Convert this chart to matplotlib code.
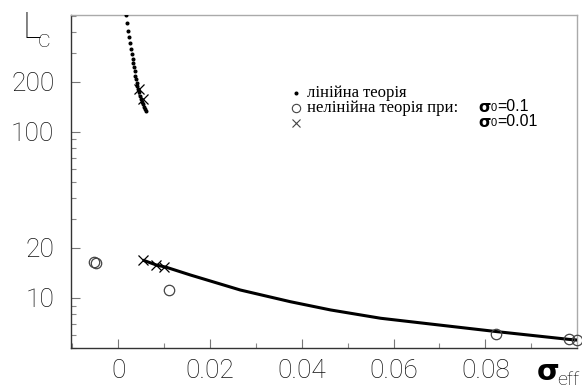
import matplotlib
matplotlib.use("Agg")
import matplotlib.pyplot as plt
from matplotlib.ticker import FixedLocator, NullFormatter, FixedFormatter

# ---- data ----
lin_x = [0.00168, 0.0019, 0.00203, 0.00225, 0.00247, 0.00268, 0.0029, 0.00312, 0.00327, 0.00342,
         0.00356, 0.00371, 0.00386, 0.00399, 0.00415, 0.00436, 0.00458, 0.0048, 0.00502, 0.00524,
         0.00545, 0.00567, 0.00589, 0.00604]
lin_y = [502, 452, 407, 372, 342, 316, 294, 275, 259, 245, 231, 218, 208, 198, 189, 181, 173, 165,
         157, 152, 147, 142, 137, 133]

curve_x = [0.00539, 0.0083, 0.0105, 0.0157, 0.0266, 0.0375, 0.0463, 0.0572, 0.0681, 0.0826, 0.0981, 0.1]
curve_y = [16.9, 15.8, 15.3, 13.76, 11.17, 9.50, 8.47, 7.55, 6.97, 6.27, 5.64, 5.58]

circ_x = [-0.0052, -0.0048, 0.0111, 0.0824, 0.0983, 0.1001]
circ_y = [16.4, 16.2, 11.1, 6.07, 5.66, 5.58]

cross_x = [0.00443, 0.0053, 0.0053, 0.0083, 0.0099]
cross_y = [181, 157, 16.9, 15.8, 15.4]

xticks = [0, 0.02, 0.04, 0.06, 0.08]
xticklabels = ["0", "0.02", "0.04", "0.06", "0.08"]
yticks = [10, 20, 100, 200]
yticklabels = ["10", "20", "100", "200"]

legend_labels = ["лінійна теорія", "нелінійна теорія при:"]

# ---- figure ----
W, H = 582, 389
fig = plt.figure(figsize=(W / 100, H / 100), dpi=100)
L, R, T, B = 71, 577, 15, 348
ax = fig.add_axes([L / W, 1 - B / H, (R - L) / W, (B - T) / H])

def ax_xy(px, py):
    return (px - L) / (R - L), (B - py) / (B - T)

ax.set_yscale("log")
ax.set_xlim(-0.0103, 0.1)
ax.set_ylim(5, 505)

ax.plot(curve_x, curve_y, color="black", lw=2.2, solid_capstyle="butt", zorder=3)
ax.plot(lin_x, lin_y, ls="none", marker="o", ms=1.9, color="black", zorder=4)
ax.plot(circ_x, circ_y, ls="none", marker="o", ms=7.5, mfc="none", mec="#444444", mew=0.9,
        clip_on=False, zorder=5)
ax.plot(cross_x, cross_y, ls="none", marker="x", ms=7, color="black", mew=0.9, zorder=5)

# ticks
ax.xaxis.set_major_locator(FixedLocator(xticks))
ax.xaxis.set_major_formatter(FixedFormatter(xticklabels))
ax.xaxis.set_minor_locator(FixedLocator([-0.01, 0.01, 0.03, 0.05, 0.07, 0.09]))
ax.yaxis.set_major_locator(FixedLocator(yticks))
ax.yaxis.set_major_formatter(FixedFormatter(yticklabels))
minor_y = [m * d for d in (1, 10, 100) for m in range(2, 10)]
minor_y = [v for v in minor_y if v not in yticks and 5 <= v <= 505]
ax.yaxis.set_minor_locator(FixedLocator(minor_y))
ax.yaxis.set_minor_formatter(NullFormatter())
ax.xaxis.set_minor_formatter(NullFormatter())
ax.tick_params(which="major", direction="in", length=6.5, width=0.8, color="#777777")
ax.tick_params(which="minor", direction="in", length=3.5, width=0.8, color="#888888")
ax.tick_params(axis="y", which="major", pad=12)
ax.tick_params(axis="x", which="major", pad=8)
for lab in ax.get_xticklabels() + ax.get_yticklabels():
    lab.set_fontfamily("Roboto")
    lab.set_fontweight("light")
    lab.set_fontsize(19)
    lab.set_color("#111111")

for s in ("left", "bottom"):
    ax.spines[s].set_color("#333333")
    ax.spines[s].set_linewidth(1.0)
for s in ("right", "top"):
    ax.spines[s].set_color("#aaaaaa")
    ax.spines[s].set_linewidth(1.0)

# axis labels
fig.text(22 / W, 1 - 38 / H, "L", family="Roboto", weight="light", size=26, ha="left", va="baseline")
fig.text(38 / W, 1 - 47 / H, "C", family="Roboto", weight="light", size=14, ha="left", va="baseline")
fig.text(537 / W, 1 - 380 / H, "σ", family="DejaVu Sans", weight="bold", size=21, ha="left", va="baseline")
fig.text(557 / W, 1 - 385 / H, "eff", family="Roboto", weight="light", size=14, ha="left", va="baseline")

# legend
rows = [93.3, 107.5, 122.5]
mx = 296
x0, y0 = ax_xy(mx, rows[0])
ax.plot([x0], [y0], transform=ax.transAxes, marker="o", ms=1.9, color="black", ls="none")
x1, y1 = ax_xy(mx, rows[1])
ax.plot([x1], [y1], transform=ax.transAxes, marker="o", ms=6, mfc="none", mec="#444444", mew=0.8, ls="none")
x2, y2 = ax_xy(mx, rows[2])
ax.plot([x2], [y2], transform=ax.transAxes, marker="x", ms=6, color="#444444", mew=0.8, ls="none")

serif = dict(family="Liberation Serif", size=12)
for lab, py in zip(legend_labels, rows[:2]):
    tx, ty = ax_xy(307, py)
    ax.text(tx, ty, lab, transform=ax.transAxes, ha="left", va="center", **serif)

def sigma_label(px, py, val):
    tx, ty = ax_xy(px, py)
    t1 = ax.text(tx, ty, "σ", transform=ax.transAxes, ha="left", va="center",
                 family="DejaVu Sans", weight="bold", size=11.5)
    t2 = ax.annotate("0", xy=(1, 0), xycoords=t1, xytext=(0.3, 1.5), textcoords="offset points",
                     ha="left", va="bottom", family="Liberation Sans", size=8)
    ax.annotate("=" + val, xy=(1, 0), xycoords=t2, xytext=(0, -0.5), textcoords="offset points",
                ha="left", va="bottom", family="Liberation Sans", size=11.5)

sigma_label(478, rows[1], "0.1")
sigma_label(478, rows[2], "0.01")

fig.savefig("out.png", dpi=100)
